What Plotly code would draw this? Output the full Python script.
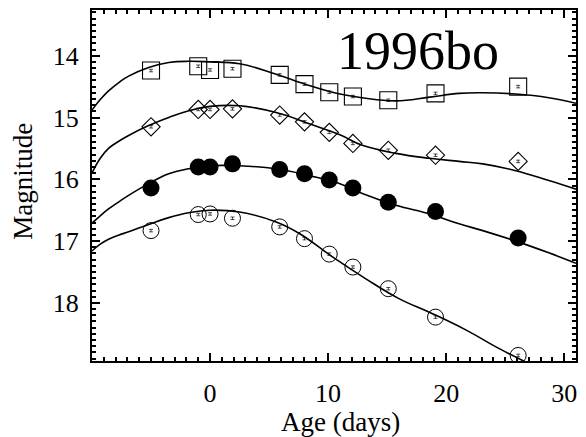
import plotly.graph_objects as go

# Observation epochs (days relative to maximum)
age = [-5.0, -1.0, 0.0, 1.9, 5.9, 8.0, 10.1, 12.1, 15.1, 19.1, 26.1]

# Photometry per band (magnitudes)
mag_square = [14.24, 14.17, 14.23, 14.21, 14.31, 14.46, 14.59, 14.66, 14.72, 14.61, 14.50]
mag_diamond = [15.15, 14.87, 14.87, 14.86, 14.96, 15.07, 15.24, 15.42, 15.53, 15.61, 15.71]
mag_filled = [16.14, 15.80, 15.80, 15.75, 15.84, 15.91, 16.01, 16.14, 16.37, 16.52, 16.95]
mag_open = [16.83, 16.57, 16.56, 16.63, 16.77, 16.96, 17.21, 17.42, 17.77, 18.23, 18.85]
mag_err = [0.02] * len(age)

# Template light-curve fits, sampled at the listed ages
fit_age_a = [-10.0, -9.3, -8.6, -7.7, -6.9, -5.2, -3.5, -1.8, 0.0, 2.5, 5.6, 8.4, 11.0,
             12.9, 15.75, 18.6, 21.1, 23.1, 25.9, 28.7, 31.0]
fit_square = [14.88, 14.71, 14.57, 14.43, 14.33, 14.19, 14.11, 14.09, 14.10, 14.13, 14.30, 14.48, 14.62,
              14.68, 14.73, 14.67, 14.61, 14.60, 14.62, 14.68, 14.77]
fit_diamond = [15.90, 15.66, 15.50, 15.38, 15.29, 15.13, 15.00, 14.89, 14.82, 14.81, 14.92, 15.10, 15.28,
               15.45, 15.58, 15.66, 15.71, 15.75, 15.86, 16.02, 16.16]
fit_filled = [16.71, 16.59, 16.48, 16.36, 16.26, 16.07, 15.91, 15.83, 15.78, 15.78, 15.83, 15.94, 16.07,
              16.23, 16.42, 16.56, 16.72, 16.83, 17.00, 17.19, 17.36]

fit_age_b = [-10.0, -9.3, -8.6, -7.7, -6.9, -5.2, -3.5, -1.8, 0.0, 2.5, 5.6, 7.6, 10.4,
             13.2, 16.0, 18.8, 21.7, 24.5, 27.0, 29.0, 31.0]
fit_open = [17.16, 17.05, 16.97, 16.90, 16.85, 16.73, 16.62, 16.54, 16.50, 16.53, 16.69, 16.88, 17.26,
            17.61, 17.93, 18.17, 18.44, 18.74, 18.98, 19.15, 19.32]

x_ticks = [0, 10, 20, 30]
y_ticks = [14, 15, 16, 17, 18]
x_range = [-10, 31]
y_range = [18.94, 13.26]

FONT = "Liberation Serif"
fig = go.Figure()

for fx, fy in [(fit_age_a, fit_square), (fit_age_a, fit_diamond),
               (fit_age_a, fit_filled), (fit_age_b, fit_open)]:
    fig.add_trace(go.Scatter(x=fx, y=fy, mode="lines",
                             line=dict(color="black", width=1.6, shape="spline", smoothing=1.2),
                             hoverinfo="skip", showlegend=False))

err = dict(type="data", array=mag_err, visible=True, color="black", thickness=0.7, width=2)
styles = [
    (mag_square, dict(symbol="square-open", size=17, color="black", line=dict(width=1.1, color="black"))),
    (mag_diamond, dict(symbol="diamond-open", size=14, color="black", line=dict(width=1.1, color="black"))),
    (mag_filled, dict(symbol="circle", size=17, color="black", line=dict(width=0))),
    (mag_open, dict(symbol="circle-open", size=16, color="black", line=dict(width=1.0, color="black"))),
]
for ys, mk in styles:
    fig.add_trace(go.Scatter(x=age, y=ys, mode="markers", marker=mk,
                             error_y=err, showlegend=False))

label_font = dict(family=FONT, size=26, color="black")
title_font = dict(family=FONT, size=27, color="black")

fig.add_annotation(x=17.6, y=13.93, xref="x", yref="y", text="1996bo", showarrow=False,
                   font=dict(family=FONT, size=54, color="black"),
                   xanchor="center", yanchor="middle")
# axis titles
fig.add_annotation(x=0.514, y=0, xref="paper", yref="paper", text="Age (days)", showarrow=False,
                   font=title_font, xanchor="center", yanchor="top", yshift=-44)
fig.add_annotation(x=0, y=0.511, xref="paper", yref="paper", text="Magnitude", showarrow=False,
                   font=title_font, textangle=-90, xanchor="center", yanchor="middle", xshift=-69)

fig.update_layout(
    xaxis=dict(range=x_range, tickvals=x_ticks, showline=True, linecolor="black", linewidth=2,
               mirror="ticks", ticks="inside", ticklen=8, tickcolor="black", tickwidth=1.5,
               ticklabelstandoff=8, tickfont=label_font, showgrid=False, zeroline=False,
               minor=dict(dtick=1, ticks="inside", ticklen=4, tickcolor="black")),
    yaxis=dict(range=y_range, tickvals=y_ticks, showline=True, linecolor="black", linewidth=2,
               mirror="ticks", ticks="inside", ticklen=8, tickcolor="black", tickwidth=1.5,
               ticklabelstandoff=6, tickfont=label_font, showgrid=False, zeroline=False,
               minor=dict(dtick=0.1, ticks="inside", ticklen=4, tickcolor="black")),
    width=586, height=437, margin=dict(l=92, r=8, t=9, b=76),
    plot_bgcolor="white", paper_bgcolor="white", showlegend=False,
)

fig.write_html("out.html")
